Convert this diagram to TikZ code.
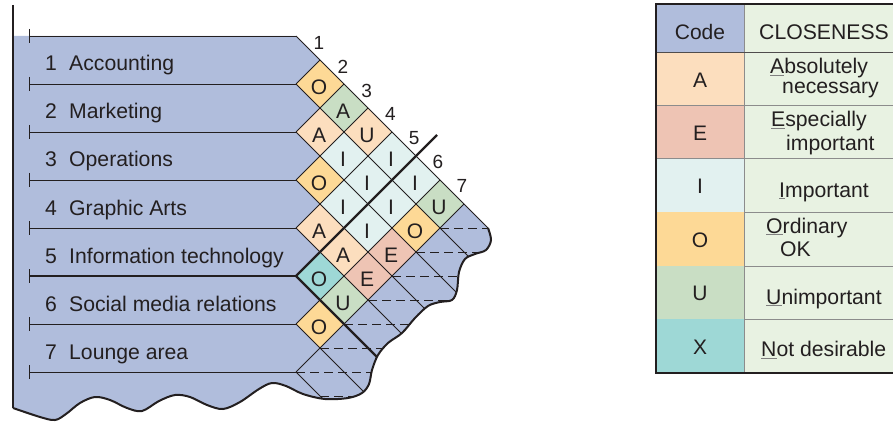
\documentclass[tikz,border=0pt]{standalone}
\usepackage{fontspec}
\setmainfont{Liberation Sans}
\usetikzlibrary{calc}
\definecolor{ink}{RGB}{35,31,32}
\definecolor{blob}{RGB}{176,189,220}
\definecolor{rateA}{RGB}{252,222,190}
\definecolor{rateE}{RGB}{238,196,180}
\definecolor{rateI}{RGB}{226,241,240}
\definecolor{rateO}{RGB}{253,217,150}
\definecolor{rateU}{RGB}{201,222,196}
\definecolor{rateX}{RGB}{158,216,214}
\definecolor{reason}{RGB}{232,242,226}
\newcommand\lead[1]{{\color{gray}\underline{\color{ink}#1}}}

\begin{document}
\begin{tikzpicture}[x=1pt,y=-1pt]

		\def\half{24}
		\def\xl{296}
		\def\ytop{36}

		\tikzset{line/.style={draw=ink,line width=0.9pt}}
		\tikzset{heavy/.style={draw=ink,line width=2.3pt}}
		\tikzset{dashline/.style={line,dash pattern=on 9pt off 5pt}}
		\tikzset{gridline/.style={draw=gray!90,line width=1pt}}
		\tikzset{dept/.style={inner sep=0pt,anchor=base west,text=ink,font=\fontsize{21.2}{24}\selectfont}}
		\tikzset{cell/.style={inner sep=0pt,text=ink,font=\fontsize{21}{24}\selectfont}}
		\tikzset{num/.style={inner sep=0pt,text=ink,font=\fontsize{19}{20}\selectfont}}

		\useasboundingbox (0,0) rectangle (893,422);

		% wavy edge: from the hypotenuse end round to the left side
		\def\wave{plot[smooth,tension=0.55] coordinates {(488,228) (491,240) (486,250) (475,254) (465,259) (459,272) (457,290) (452,300) (440,302) (428,306) (415,318) (402,333) (388,343) (378,355) (372,370) (369,384) (362,393) (348,398) (325,399) (303,394) (286,386) (272,383) (259,389) (240,402) (223,409) (207,405) (190,397) (175,395) (159,401) (142,411) (127,408) (110,400) (95,397) (80,403) (66,414) (55,420) (40,417) (13,408)}}

		\fill[blob] \wave -- (13,36) -- (296,36) -- cycle;

		% rated cells: i/j/colour/letter
		\foreach \i/\j/\c/\t in {1/2/rateO/O, 2/3/rateA/A, 3/4/rateO/O, 4/5/rateA/A, 5/6/rateX/O, 6/7/rateO/O,
				1/3/rateU/A, 2/4/rateI/I, 3/5/rateI/I, 4/6/rateA/A, 5/7/rateU/U,
				1/4/rateA/U, 2/5/rateI/I, 3/6/rateI/I, 4/7/rateE/E,
				1/5/rateI/I, 2/6/rateI/I, 3/7/rateE/E,
				1/6/rateI/I, 2/7/rateO/O,
				1/7/rateU/U}{
				\pgfmathsetmacro\cx{\xl+\half*(\j-\i)}
				\pgfmathsetmacro\cy{\ytop+\half*(\i+\j-1)}
				\fill[\c] (\cx-\half,\cy) -- (\cx,\cy-\half) -- (\cx+\half,\cy) -- (\cx,\cy+\half) -- cycle;
				\node[cell] (c\i\j) at (\cx-1,\cy+3) {\t};
			}

		% lines running down-right and dashed halves, kept inside the edge
		\begin{scope}
			\clip \wave -- (13,36) -- (296,36) -- cycle;
			\foreach \k in {1,...,7}
				\draw[line] (\xl,\ytop+48*\k) -- ++(260,260);
			\foreach \m in {8,...,16}{
					\pgfmathsetmacro\yy{\ytop+\half*\m}
					\pgfmathsetmacro\xs{\xl+abs(372-\yy)}
					\draw[dashline] (\xs,\yy) -- (560,\yy);
				}
			\draw[heavy] (\xl,276) -- ++(120,120);
		\end{scope}

		% lines running up-right
		\foreach \k in {1,...,7}
			\draw[line] (\xl,\ytop+48*\k) -- ++(\half*\k,-\half*\k);
		\draw[line] (\xl,\ytop) -- (488,228);

		% row lines with end ticks
		\foreach \k in {0,...,7}{
				\draw[line] (29,\ytop+48*\k) -- (\xl,\ytop+48*\k);
				\draw[line] (29,\ytop+48*\k-7) -- (29,\ytop+48*\k+7);
			}
		\draw[heavy] (29,276) -- (\xl,276);
		\draw[heavy] (\xl,276) -- ++(141,-141);

		% outer edge
		\draw[heavy,line width=2pt] \wave;
		\draw[heavy,line width=2pt] (13,5) -- (13,408);

		% department numbers along the top
		\foreach \k in {1,...,7}
			\node[num] (n\k) at (319+23.8*\k-23.8,43+23.8*\k-23.8) {\k};

		% department names
		\foreach \k/\name in {1/Accounting, 2/Marketing, 3/Operations, 4/Graphic Arts,
				5/Information technology, 6/Social media relations, 7/Lounge area}{
				\node[dept] (k\k) at (45,\ytop+48*\k-13) {\k};
				\node[dept] (d\k) at (69,\ytop+48*\k-13) {\name};
			}

		% key table
		\fill[reason] (744,4) rectangle (900,373);
		\fill[blob] (656,4) rectangle (744,52);
		\foreach \c/\t/\ya/\yb in {rateA/A/52/106, rateE/E/106/159, rateI/I/159/212,
				rateO/O/212/266, rateU/U/266/319, rateX/X/319/373}{
				\fill[\c] (656,\ya) rectangle (744,\yb);
				\node[cell] (key\t) at (700,{(\ya+\yb)/2+1}) {\t};
				\draw[gridline] (656,\yb) -- (900,\yb);
			}
		\draw[gridline] (744,4) -- (744,373);
		\draw[line,draw=ink!80] (656,52) -- (900,52);
		\draw[heavy,line width=2pt] (900,4) -- (656,4) -- (656,373) -- (900,373);

		\node[cell] (hcode) at (700,32) {Code};
		\node[dept] (hclose) at (759,39.5) {CLOSENESS};
		\node[dept] (tA1) at (770,74) {\lead{A}bsolutely};
		\node[dept] (tA2) at (782,94) {necessary};
		\node[dept] (tE1) at (771,127) {\lead{E}specially};
		\node[dept] (tE2) at (786,150) {important};
		\node[dept] (tI) at (779,197) {\lead{I}mportant};
		\node[dept] (tO1) at (766,233) {\lead{O}rdinary};
		\node[dept] (tO2) at (780,256.5) {OK};
		\node[dept] (tU) at (766,304) {\lead{U}nimportant};
		\node[dept] (tX) at (761,356.5) {\lead{N}ot desirable};

	\end{tikzpicture}
\end{document}
